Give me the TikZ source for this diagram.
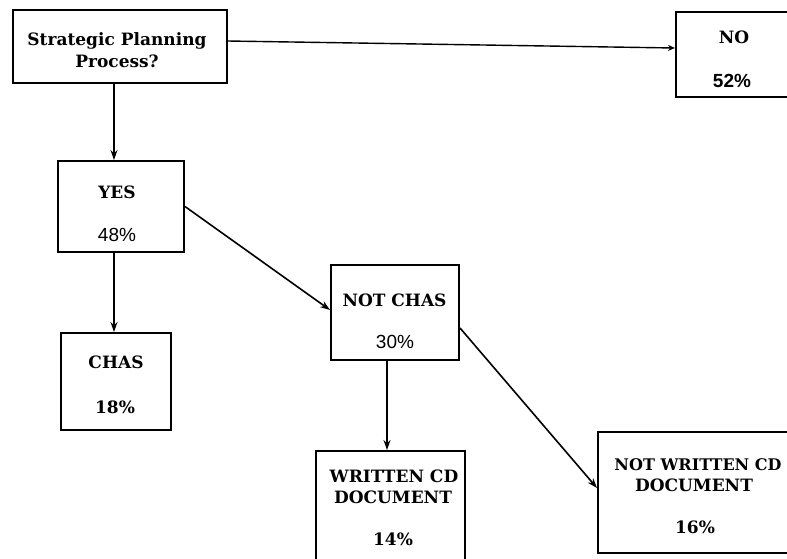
\documentclass[tikz,border=0pt]{standalone}
\usepackage{fontspec}
\setmainfont{DejaVu Serif}
\newfontfamily\pctsans{Liberation Sans}
\usetikzlibrary{arrows.meta}
\tikzset{
  box/.style={draw=black, line width=2pt, rectangle, inner sep=0pt},
  lbl/.style={anchor=base, inner sep=0pt, font=\fontsize{17}{18}\selectfont\bfseries},
  psans/.style={anchor=base, inner sep=0pt, font=\fontsize{19}{20}\selectfont\pctsans},
  arr/.style={line width=1.6pt, -{Stealth[length=10pt,width=7pt]}},
}
\begin{document}
\begin{tikzpicture}[x=1pt,y=-1pt]
\useasboundingbox[fill=white] (0,0) rectangle (787,558);
% boxes
\node[box, minimum width=214pt, minimum height=73pt] (sp) at (120,46.5) {};
\node[box, minimum width=124pt, minimum height=85pt] (no) at (738,54.5) {};
\node[box, minimum width=126pt, minimum height=91pt] (yes) at (121,206.5) {};
\node[box, minimum width=110pt, minimum height=97pt] (chas) at (116,381.5) {};
\node[box, minimum width=128pt, minimum height=95pt] (nc) at (395,312.5) {};
\node[box, minimum width=149pt, minimum height=112pt] (wr) at (390.5,507) {};
\node[box, minimum width=210pt, minimum height=121pt] (nw) at (703,492.5) {};
% texts
\node[lbl] (sp1) at (117,45) {Strategic Planning};
\node[lbl] (sp2) at (117,67) {Process?};
\node[lbl] (noT) at (734,43) {NO};
\node[psans, font=\fontsize{19}{20}\selectfont\pctsans\bfseries] (noP) at (732,87) {52\%};
\node[lbl] (yesT) at (117,198) {YES};
\node[psans] (yesP) at (117,241) {48\%};
\node[lbl] (chasT) at (116,368) {CHAS};
\node[lbl] (chasP) at (115,413) {18\%};
\node[lbl] (ncT) at (394.5,306) {NOT CHAS};
\node[psans] (ncP) at (395,348) {30\%};
\node[lbl] (wr1) at (394,482) {WRITTEN CD};
\node[lbl] (wr2) at (393,503) {DOCUMENT};
\node[lbl] (wrP) at (393,545) {14\%};
\node[lbl, font=\fontsize{16}{18}\selectfont\bfseries] (nw1) at (698,470) {NOT WRITTEN CD};
\node[lbl] (nw2) at (694,491) {DOCUMENT};
\node[lbl] (nwP) at (695,533) {16\%};
% connectors
\draw[line width=1.4pt, -{Stealth[length=7pt,width=6pt]}] ([yshift=5.5pt]sp.east) -- ([yshift=6.5pt]no.west);
\draw[arr] ([xshift=-6pt]sp.south) -- ([xshift=-6pt]sp.south |- yes.north);
\draw[arr] ([xshift=-7pt]yes.south) -- ([xshift=-7pt]yes.south |- chas.north);
\draw[arr] (yes.east) -- ([yshift=2.5pt]nc.west);
\draw[arr] ([xshift=-8pt]nc.south) -- ([xshift=-8pt]nc.south |- wr.north);
\draw[arr] ([yshift=-15.5pt]nc.east) -- ([yshift=4.5pt]nw.west);
\end{tikzpicture}
\end{document}
